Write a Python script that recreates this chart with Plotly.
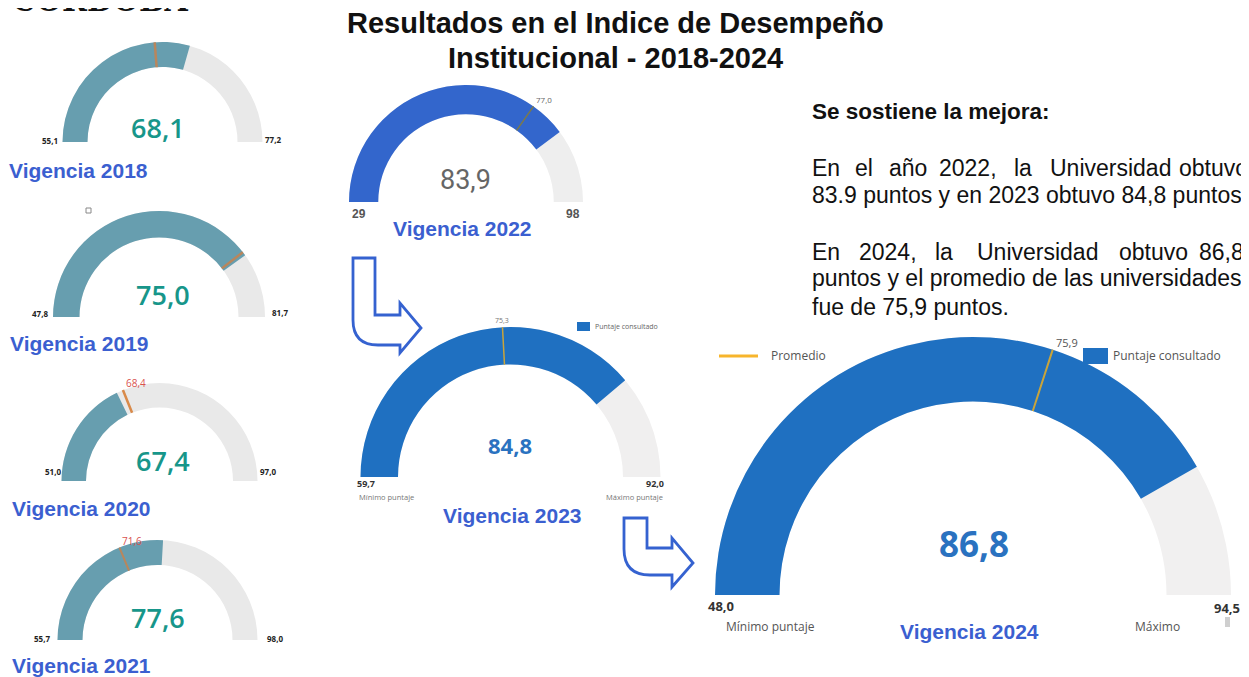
import math
import plotly.graph_objects as go

# page body has an 8px margin: the figure is drawn at (8, 8) inside a 1249x677 window
OFF = 8
W, H = 1249 - OFF, 677 - OFF

# ---------------- data ----------------
years = ["2018", "2019", "2020", "2021", "2022", "2023", "2024"]
scores = [68.1, 75.0, 67.4, 77.6, 83.9, 84.8, 86.8]
range_min = [55.1, 47.8, 51.0, 55.7, 29.0, 59.7, 48.0]
range_max = [77.2, 81.7, 97.0, 98.0, 98.0, 92.0, 94.5]
promedio = [65.6, 74.6, 68.4, 71.6, 77.0, 75.3, 75.9]
min_labels = ["55,1", "47,8", "51,0", "55,7", "29", "59,7", "48,0"]
max_labels = ["77,2", "81,7", "97,0", "98,0", "98", "92,0", "94,5"]
promedio_labels = [None, None, "68,4", "71,6", "77,0", "75,3", "75,9"]

title_lines = ["Resultados en el Indice de Desempeño", "Institucional - 2018-2024"]

# ---------------- layout / style (window pixels) ----------------
# gauge centre x, baseline y, outer radius
geo = [(162.5, 142, 100), (159, 317, 106), (159.5, 481, 98), (157.5, 640, 100),
       (466, 202, 117), (510.5, 477, 150), (973, 595, 258)]

TEAL_BAR, TEAL_NUM = "#679eaf", "#17968a"
styles = [
    dict(bar=TEAL_BAR, bg="#e9e9e9", thr="#b9865c", thrw=2.5),
    dict(bar=TEAL_BAR, bg="#e9e9e9", thr="#b9865c", thrw=2.5),
    dict(bar=TEAL_BAR, bg="#e9e9e9", thr="#d98a4a", thrw=2.5),
    dict(bar=TEAL_BAR, bg="#e9e9e9", thr="#b9865c", thrw=2),
    dict(bar="#3366cc", bg="#eeeeee", thr="#7c7a4a", thrw=1.5),
    dict(bar="#1f70c1", bg="#f0efef", thr="#c9a43a", thrw=1.5),
    dict(bar="#1f70c1", bg="#f1f0f0", thr="#c9a43a", thrw=2),
]
num_style = [
    dict(x=158, y=127, size=27, color=TEAL_NUM, family="Open Sans", weight=600),
    dict(x=163, y=294, size=27, color=TEAL_NUM, family="Open Sans", weight=600),
    dict(x=163, y=460, size=27, color=TEAL_NUM, family="Open Sans", weight=600),
    dict(x=158, y=617, size=27, color=TEAL_NUM, family="Open Sans", weight=600),
    dict(x=466, y=180, size=27, color="#666666", family="Roboto", weight=400),
    dict(x=510, y=445, size=22, color="#2a72c0", family="Open Sans", weight=700),
    dict(x=974, y=543, size=35, color="#2a72c0", family="Open Sans", weight=700),
]
# min / max label placement: (x, y, xanchor)
min_pos = [(60, 140, "right"), (50, 313, "right"), (63, 471, "right"), (52, 638, "right"),
           (350, 214, "left"), (355, 483, "left"), (706, 606, "left")]
max_pos = [(263, 139, "left"), (270, 312, "left"), (258, 471, "left"), (265, 638, "left"),
           (582, 214, "right"), (666, 483, "right"), (1242, 608, "right")]
lbl_style = [
    dict(size=8, color="#222", family="Open Sans", weight=700)] * 4 + [
    dict(size=12, color="#555", family="Liberation Sans", weight=700),
    dict(size=9, color="#333", family="Open Sans", weight=700),
    dict(size=13, color="#333", family="Open Sans", weight=700),
]
thr_lbl_style = [None, None,
                 dict(size=10, color="#d9534f"), dict(size=10, color="#d9534f"),
                 dict(size=8, color="#666"), dict(size=7, color="#777"),
                 dict(size=11, color="#555")]
vig_pos = [(7, 170, "left"), (8, 343, "left"), (10, 508, "left"), (10, 665, "left"),
           (462, 228, "center"), (512, 515, "center"), (969, 631, "center")]
VIG_COLOR = "#3b5fd0"


def px(x):
    return (x - OFF) / W


def py(y):
    return 1 - (y - OFF) / H


annotations = []
shapes = []


def ann(x, y, text, size, color, family="Liberation Sans", weight=400,
        xanchor="center", yanchor="middle"):
    annotations.append(dict(
        x=px(x), y=py(y), xref="paper", yref="paper", text=text, showarrow=False,
        xanchor=xanchor, yanchor=yanchor,
        font=dict(size=size, color=color, family=family, weight=weight)))


def fmt(v):
    return f"{v:.1f}".replace(".", ",")


fig = go.Figure()

for i, yr in enumerate(years):
    cx, by, R = geo[i]
    st = styles[i]
    fig.add_trace(go.Indicator(
        mode="gauge",
        value=scores[i],
        domain=dict(x=[px(cx - R), px(cx + R)], y=[py(by), py(by - R)]),
        gauge=dict(
            shape="angular",
            axis=dict(range=[range_min[i], range_max[i]], visible=False),
            bar=dict(color=st["bar"], thickness=1, line=dict(width=0)),
            bgcolor=st["bg"], borderwidth=0,
            threshold=dict(line=dict(color=st["thr"], width=st["thrw"]),
                           thickness=1, value=promedio[i]),
        ),
    ))
    ns = num_style[i]
    ann(ns["x"], ns["y"], fmt(scores[i]), ns["size"], ns["color"], ns["family"], ns["weight"])
    ls = lbl_style[i]
    mx_, my_, ma = min_pos[i]
    ann(mx_, my_, min_labels[i], ls["size"], ls["color"], ls["family"], ls["weight"], xanchor=ma)
    mx_, my_, ma = max_pos[i]
    ann(mx_, my_, max_labels[i], ls["size"], ls["color"], ls["family"], ls["weight"], xanchor=ma)
    # threshold label at the outer end of the threshold line
    if promedio_labels[i]:
        f = (promedio[i] - range_min[i]) / (range_max[i] - range_min[i])
        th = math.pi * (1 - f)
        ex, ey = cx + R * math.cos(th), by - R * math.sin(th)
        ts = thr_lbl_style[i]
        xa = "center" if abs(f - 0.5) < 0.04 else "left"
        ann(ex + (0 if xa == "center" else 1), ey - 7, promedio_labels[i], ts["size"], ts["color"],
            "Open Sans", 400, xanchor=xa)
    vx, vy, va = vig_pos[i]
    ann(vx, vy, "Vigencia " + yr, 21, VIG_COLOR, "Liberation Sans", 700, xanchor=va)

# sub labels
ann(357, 497, "Mínimo puntaje", 7.5, "#777", "Open Sans", xanchor="left")
ann(665, 497, "Máximo puntaje", 7.5, "#777", "Open Sans", xanchor="right")
ann(724, 626, "Mínimo puntaje", 12, "#555", "Open Sans", xanchor="left")
ann(1133, 626, "Máximo", 12, "#555", "Open Sans", xanchor="left")

# legends
shapes.append(dict(type="rect", xref="paper", yref="paper", x0=px(577), x1=px(590), y0=py(331), y1=py(322),
                   fillcolor="#1f70c1", line=dict(width=0)))
ann(593, 326, "Puntaje consultado", 7, "#666", "Open Sans", xanchor="left")
shapes.append(dict(type="line", xref="paper", yref="paper", x0=px(719), x1=px(758), y0=py(356), y1=py(356),
                   line=dict(color="#f7b52c", width=3)))
ann(769, 356, "Promedio", 12, "#555", "Open Sans", xanchor="left")
shapes.append(dict(type="rect", xref="paper", yref="paper", x0=px(1083), x1=px(1108), y0=py(364), y1=py(348),
                   fillcolor="#1f70c1", line=dict(width=0)))
ann(1111, 356, "Puntaje consultado", 12, "#555", "Open Sans", xanchor="left")
shapes.append(dict(type="rect", xref="paper", yref="paper", x0=px(1225), x1=px(1230), y0=py(627), y1=py(617),
                   fillcolor="#cfcfcf", line=dict(width=0)))
shapes.append(dict(type="rect", xref="paper", yref="paper", x0=px(86), x1=px(91), y0=py(213), y1=py(208),
                   fillcolor="white", line=dict(color="#888", width=1)))


def path(pts_cmds):
    out = []
    for c in pts_cmds:
        if isinstance(c, str):
            out.append(c)
        else:
            out.append(f"{px(c[0]):.5f},{py(c[1]):.5f}")
    return " ".join(out)


arrow1 = path(["M", (353, 258), "L", (375, 258), "L", (375, 315), "L", (400, 315), "L", (400, 303),
               "L", (421, 328), "L", (400, 353), "L", (400, 345), "L", (378, 345),
               "Q", (353, 345), (353, 320), "Z"])
arrow2 = path(["M", (624, 518), "L", (647, 518), "L", (647, 548), "L", (672, 548), "L", (672, 538),
               "L", (693, 563), "L", (672, 587), "L", (672, 575), "L", (650, 575),
               "Q", (624, 575), (624, 549), "Z"])
for p in (arrow1, arrow2):
    shapes.append(dict(type="path", xref="paper", yref="paper", path=p,
                       fillcolor="white", line=dict(color="#3562d0", width=2.8)))

# title and text block
ann(615, 23, title_lines[0], 29, "#111", "Liberation Sans", 700)
ann(615, 58, title_lines[1], 29, "#111", "Liberation Sans", 700)
ann(100, 20, "CORDOBA", 30, "#111", "DejaVu Serif", 700, yanchor="bottom")

ann(810, 112, "Se sostiene la mejora:", 22.5, "#111", "Liberation Sans", 700, xanchor="left")
line1 = [(810, "En"), (853, "el"), (887, "año"), (937, "2022,"), (1012, "la"),
         (1048, "Universidad"), (1177, "obtuvo")]
for x, w in line1:
    ann(x, 168, w, 23, "#111", "Liberation Sans", xanchor="left")
ann(810, 195, "83.9 puntos y en 2023 obtuvo 84,8 puntos.", 23, "#111", "Liberation Sans", xanchor="left")
line3 = [(810, "En"), (857, "2024,"), (933, "la"), (975, "Universidad"), (1117, "obtuvo"),
         (1197, "86,8")]
for x, w in line3:
    ann(x, 252, w, 23, "#111", "Liberation Sans", xanchor="left")
ann(810, 278, "puntos y el promedio de las universidades", 23, "#111", "Liberation Sans", xanchor="left")
ann(810, 307, "fue de 75,9 puntos.", 23, "#111", "Liberation Sans", xanchor="left")

fig.update_layout(
    width=W, height=H,
    margin=dict(l=0, r=0, t=0, b=0),
    paper_bgcolor="white", plot_bgcolor="white",
    separators=",.",
    showlegend=False,
    annotations=annotations,
    shapes=shapes,
)

fig.write_html("out.html")
